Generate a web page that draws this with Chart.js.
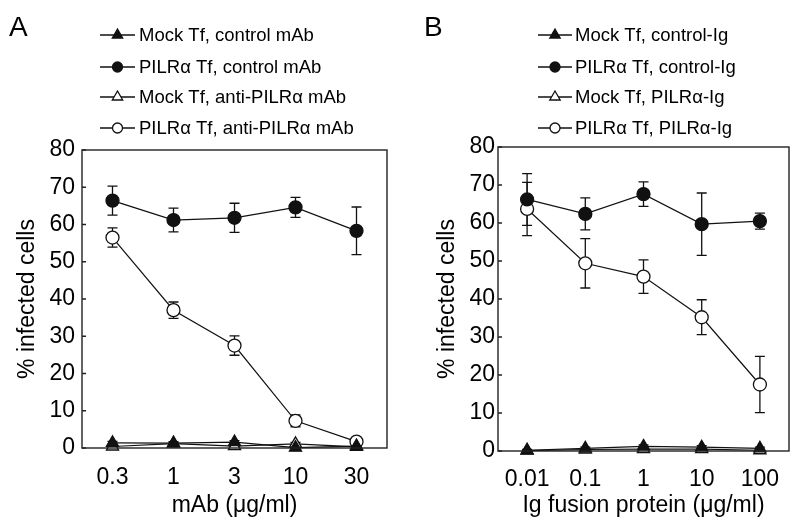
<!DOCTYPE html>
<html><head><meta charset="utf-8">
<script src="https://cdn.jsdelivr.net/npm/chart.js@4"></script>
<style>
html,body{margin:0;padding:0;background:#fff;width:800px;height:530px;overflow:hidden}
.p{position:absolute;top:0;width:400px;height:530px}
</style></head><body>
<div class="p" style="left:0"><canvas id="cA" width="400" height="530"></canvas></div>
<div class="p" style="left:400px"><canvas id="cB" width="400" height="530"></canvas></div>
<script>
// ---------- data ----------
const dosesA = ['0.3', '1', '3', '10', '30'];
const dosesB = ['0.01', '0.1', '1', '10', '100'];
const yTicks = [0, 10, 20, 30, 40, 50, 60, 70, 80];

const namesA = ['Mock Tf, control mAb', 'PILR\u03b1 Tf, control mAb', 'Mock Tf, anti-PILR\u03b1 mAb', 'PILR\u03b1 Tf, anti-PILR\u03b1 mAb'];
const mockCtrlA = [1.4, 1.3, 1.6, 0.1, 0.5];
const mockCtrlAErr = [0.4, 0.4, 0.4, 0.2, 0.2];
const pilrCtrlA = [66.4, 61.2, 61.8, 64.6, 58.3];
const pilrCtrlAErr = [3.9, 3.2, 3.9, 2.7, 6.4];
const mockAntiA = [0.4, 1.2, 0.5, 1.1, 0.3];
const mockAntiAErr = [0.3, 0.3, 0.3, 0.4, 0.2];
const pilrAntiA = [56.5, 37.0, 27.5, 7.3, 1.7];
const pilrAntiAErr = [2.6, 2.2, 2.6, 1.6, 0.5];

const namesB = ['Mock Tf, control-Ig', 'PILR\u03b1 Tf, control-Ig', 'Mock Tf, PILR\u03b1-Ig', 'PILR\u03b1 Tf, PILR\u03b1-Ig'];
const mockCtrlB = [0.2, 0.7, 1.2, 1.0, 0.7];
const mockCtrlBErr = [0.2, 0.3, 0.4, 0.4, 0.3];
const pilrCtrlB = [66.2, 62.4, 67.6, 59.7, 60.5];
const pilrCtrlBErr = [6.8, 4.2, 3.2, 8.2, 2.1];
const mockAntiB = [0.1, 0.4, 0.5, 0.5, 0.2];
const mockAntiBErr = [0.2, 0.2, 0.2, 0.2, 0.2];
const pilrAntiB = [63.7, 49.4, 45.9, 35.2, 17.5];
const pilrAntiBErr = [7.0, 6.5, 4.4, 4.6, 7.4];

// ---------- styling ----------
const FONT = '"Liberation Sans", Arial, Helvetica, sans-serif';
const AXFONT = 23;
const INK = '#111';
const styles = [
  {pointStyle: 'triangle', fill: INK, radius: 7},
  {pointStyle: 'circle', fill: INK, radius: 6.5},
  {pointStyle: 'triangle', fill: '#fff', radius: 7},
  {pointStyle: 'circle', fill: '#fff', radius: 6.5}
];

function makeDatasets(names, vals, errs) {
  return names.map((n, i) => ({
    label: n,
    data: vals[i],
    errors: errs[i],
    borderColor: INK,
    borderWidth: 1.2,
    pointStyle: styles[i].pointStyle,
    pointRadius: styles[i].radius,
    pointBackgroundColor: styles[i].fill,
    pointBorderColor: INK,
    pointBorderWidth: 1.3,
    tension: 0,
    clip: false
  }));
}

const panelPlugin = {
  id: 'panel',
  beforeDatasetsDraw(chart) {
    const ctx = chart.ctx, y = chart.scales.y;
    ctx.save();
    ctx.strokeStyle = INK;
    ctx.lineWidth = 1.3;
    chart.data.datasets.forEach((ds, i) => {
      const meta = chart.getDatasetMeta(i);
      meta.data.forEach((pt, j) => {
        const v = ds.data[j], e = ds.errors[j];
        const yt = y.getPixelForValue(v + e), yb = y.getPixelForValue(Math.max(0, v - e));
        ctx.beginPath();
        ctx.moveTo(pt.x, yt); ctx.lineTo(pt.x, yb);
        ctx.moveTo(pt.x - 5, yt); ctx.lineTo(pt.x + 5, yt);
        ctx.moveTo(pt.x - 5, yb); ctx.lineTo(pt.x + 5, yb);
        ctx.stroke();
      });
    });
    ctx.restore();
  },
  afterDraw(chart, args, opts) {
    const ctx = chart.ctx, a = chart.chartArea, y = chart.scales.y;
    ctx.save();
    // frame
    ctx.strokeStyle = '#222';
    ctx.lineWidth = 1.4;
    ctx.strokeRect(a.left, a.top, a.right - a.left, a.bottom - a.top);
    // inward y ticks
    ctx.beginPath();
    yTicks.forEach(t => {
      const py = y.getPixelForValue(t);
      ctx.moveTo(a.left, py); ctx.lineTo(a.left + 4, py);
    });
    ctx.stroke();
    // panel letter
    ctx.fillStyle = '#000';
    ctx.font = '28px ' + FONT;
    ctx.textBaseline = 'alphabetic';
    ctx.textAlign = 'left';
    ctx.fillText(opts.letter, opts.letterX, 36);
    // legend
    ctx.font = '18.5px ' + FONT;
    ctx.textBaseline = 'middle';
    chart.data.datasets.forEach((ds, i) => {
      const ry = opts.rows[i];
      ctx.strokeStyle = INK;
      ctx.lineWidth = 1.4;
      ctx.beginPath();
      ctx.moveTo(opts.lx0, ry); ctx.lineTo(opts.lx1, ry);
      ctx.stroke();
      ctx.fillStyle = styles[i].fill;
      ctx.lineWidth = 1.3;
      Chart.helpers.drawPoint(ctx, {pointStyle: styles[i].pointStyle, radius: styles[i].pointStyle === 'circle' ? 5 : 6, rotation: 0, borderWidth: 1.3}, (opts.lx0 + opts.lx1) / 2, ry);
      ctx.fillStyle = '#000';
      ctx.fillText(ds.label, opts.tx, ry + 1);
    });
    ctx.restore();
  }
};

function makeChart(id, labels, datasets, L) {
  return new Chart(document.getElementById(id), {
    type: 'line',
    data: {labels: labels, datasets: datasets},
    options: {
      responsive: false,
      animation: false,
      devicePixelRatio: 1,
      layout: {padding: {top: L.top, right: L.right, bottom: 0, left: 0}},
      plugins: {
        legend: {display: false},
        tooltip: {enabled: false},
        panel: L.panel
      },
      scales: {
        x: {
          type: 'category',
          offset: true,
          grid: {display: false, drawTicks: false},
          border: {display: false},
          ticks: {color: '#000', font: {family: FONT, size: AXFONT}, padding: L.xTickPad, maxRotation: 0, autoSkip: false},
          title: {display: true, text: L.xTitle, color: '#000', font: {family: FONT, size: AXFONT}, padding: {top: 0, bottom: 11}},
          afterFit(s) { s.height = L.xHeight; }
        },
        y: {
          min: 0, max: 80,
          afterBuildTicks(s) { s.ticks = yTicks.map(v => ({value: v})); },
          grid: {display: false, drawTicks: false},
          border: {display: false},
          ticks: {color: '#000', font: {family: FONT, size: AXFONT}, padding: L.yTickPad},
          title: {display: true, text: '% infected cells', color: '#000', font: {family: FONT, size: AXFONT}, padding: {top: L.yTitlePad, bottom: 0}},
          afterFit(s) { s.width = L.yWidth; }
        }
      }
    },
    plugins: [panelPlugin]
  });
}

makeChart('cA', dosesA,
  makeDatasets(namesA, [mockCtrlA, pilrCtrlA, mockAntiA, pilrAntiA], [mockCtrlAErr, pilrCtrlAErr, mockAntiAErr, pilrAntiAErr]),
  {top: 150, right: 13, xHeight: 82, yWidth: 82, xTickPad: 16, yTickPad: 7, yTitlePad: 14,
   xTitle: 'mAb (\u03bcg/ml)',
   panel: {letter: 'A', letterX: 9, lx0: 100, lx1: 135, tx: 139, rows: [35, 67, 97, 128]}});

makeChart('cB', dosesB,
  makeDatasets(namesB, [mockCtrlB, pilrCtrlB, mockAntiB, pilrAntiB], [mockCtrlBErr, pilrCtrlBErr, mockAntiBErr, pilrAntiBErr]),
  {top: 147, right: 11, xHeight: 79, yWidth: 98, xTickPad: 15, yTickPad: 3, yTitlePad: 34,
   xTitle: 'Ig fusion protein (\u03bcg/ml)',
   panel: {letter: 'B', letterX: 24, lx0: 138, lx1: 172, tx: 175, rows: [35, 67, 97, 128]}});
</script>
</body></html>
